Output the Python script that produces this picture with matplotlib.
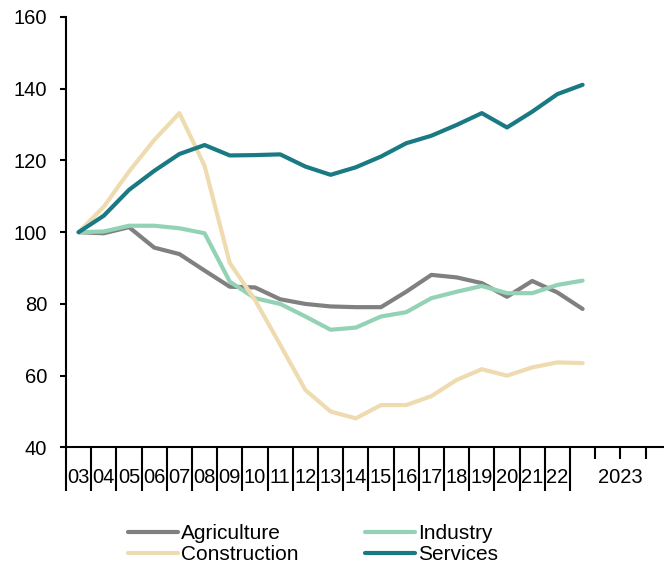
import matplotlib
matplotlib.use("Agg")
import matplotlib.pyplot as plt

# categories: annual 2003-2022, then quarters of 2023
year_labels = ["03", "04", "05", "06", "07", "08", "09", "10", "11", "12",
               "13", "14", "15", "16", "17", "18", "19", "20", "21", "22"]
last_label = "2023"

agriculture = [100, 99.7, 101.4, 95.7, 93.9, 89.3, 84.8, 84.6, 81.3, 80.0, 79.3,
               79.1, 79.1, 83.4, 88.1, 87.4, 85.8, 82.0, 86.4, 83.2, 78.6]
industry = [100, 100.2, 101.8, 101.8, 101.1, 99.7, 86.2, 81.6, 80.0, 76.5, 72.8,
            73.4, 76.5, 77.7, 81.6, 83.4, 85.0, 83.0, 83.0, 85.3, 86.5]
construction = [100, 107.1, 116.9, 125.7, 133.2, 118.5, 91.4, 81.1, 68.6, 56.0, 50.0,
                48.1, 51.8, 51.8, 54.3, 58.8, 61.8, 60.0, 62.3, 63.7, 63.5]
services = [100, 104.6, 111.8, 117.1, 121.8, 124.3, 121.4, 121.5, 121.7, 118.3, 116.0,
            118.1, 121.1, 124.8, 126.9, 129.9, 133.2, 129.2, 133.6, 138.5, 141.1]

series = {
    "Agriculture": (agriculture, "#808080"),
    "Industry": (industry, "#93D2B5"),
    "Construction": (construction, "#EEDCB0"),
    "Services": (services, "#1A7A84"),
}

plt.rcParams["font.family"] = ["Liberation Sans", "DejaVu Sans"]

fig = plt.figure(figsize=(6.64, 5.67), dpi=100)
ax = fig.add_axes([66 / 664, 1 - 447.4 / 567, 1 - 66 / 664, (447.4 - 17) / 567])

xs = list(range(len(services)))
lines = {}
for name, (vals, col) in series.items():
    lines[name], = ax.plot(xs, vals, color=col, lw=3, label=name, solid_capstyle="round")

ax.set_ylim(40, 160)
ax.set_yticks(range(40, 161, 20))
ax.set_xlim(-0.5, 23.23)

# labels at category centres, long ticks at year boundaries
centers = list(range(len(year_labels))) + [21.5]
ax.set_xticks(centers)
ax.set_xticklabels(year_labels + [last_label])
ax.set_xticks([i - 0.5 for i in range(len(year_labels) + 1)], minor=True)
ax.tick_params(axis="x", which="major", length=0, pad=15, labelsize=14.5)
ax.tick_params(axis="x", which="minor", length=31.5, width=1.5, color="black")
ax.tick_params(axis="y", length=4.5, width=1.5, pad=9, labelsize=14.5)

# short ticks between the quarters of 2023
sec = ax.secondary_xaxis("bottom")
sec.set_xticks([20.5, 21.5, 22.5])
sec.set_xticklabels([])
sec.tick_params(length=8.5, width=1.5)
sec.spines["bottom"].set_visible(False)

for s in ["top", "right"]:
    ax.spines[s].set_visible(False)
ax.spines["left"].set_linewidth(1.5)
ax.spines["bottom"].set_linewidth(1.5)

# legend filled column-wise, so order gives rows Agriculture/Industry, Construction/Services
order = ["Agriculture", "Construction", "Industry", "Services"]
fig.legend([lines[n] for n in order], order, loc="upper left",
           bbox_to_anchor=(128 / 664, 1 - 524 / 567), ncol=2,
           frameon=False, fontsize=15, handlelength=2.4, handletextpad=0.15,
           columnspacing=3.2, labelspacing=0.1, borderpad=0, borderaxespad=0)

fig.savefig("out.png", dpi=100)
